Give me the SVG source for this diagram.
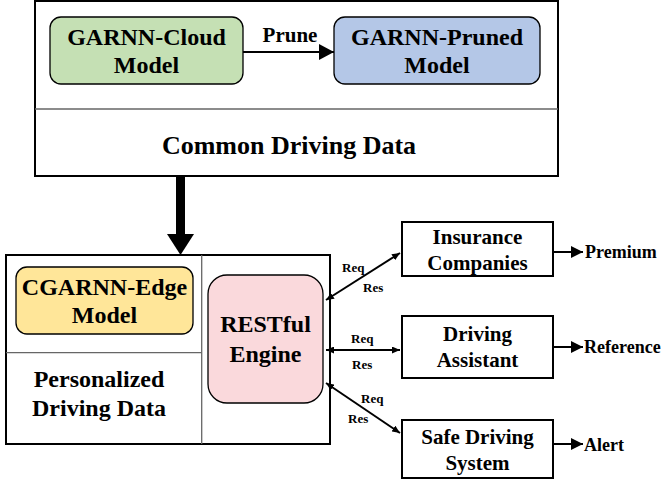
<svg xmlns="http://www.w3.org/2000/svg" width="665" height="485" viewBox="0 0 665 485">
<style>
text{font-family:'Liberation Serif','DejaVu Serif',serif;font-weight:bold;fill:#000}
.c{text-anchor:middle}
.frame{fill:#fff;stroke:#000;stroke-width:2}
.div{stroke:#666;stroke-width:1.3;fill:none}
.node{stroke:#000;stroke-width:1.3}
.box{fill:#fff;stroke:#000;stroke-width:2}
.t24{font-size:24px}
.t21{font-size:21px}
.t18{font-size:18px}
.t13{font-size:13px}
.ln{stroke:#000;stroke-width:2;fill:none}
</style>
<defs>
<marker id="big" markerUnits="userSpaceOnUse" markerWidth="15" markerHeight="16" refX="15" refY="8" orient="auto"><path d="M0,0 L15,8 L0,16 z" fill="#000"/></marker>
<marker id="out" markerUnits="userSpaceOnUse" markerWidth="12" markerHeight="12" refX="12" refY="6" orient="auto"><path d="M0,0 L12,6 L0,12 z" fill="#000"/></marker>
<marker id="sm" markerUnits="userSpaceOnUse" markerWidth="8" markerHeight="7" refX="8" refY="3.5" orient="auto-start-reverse"><path d="M0,0 L8,3.5 L0,7 z" fill="#000"/></marker>
</defs>
<g font-family="Liberation Serif, DejaVu Serif, serif" font-weight="bold">
<g id="cloud-frame">
<rect class="frame" x="35" y="1" width="523" height="175"/>
<line class="div" x1="35" y1="109" x2="558" y2="109"/>
<text class="c" x="289" y="154" style="font-size:26px">Common Driving Data</text>
</g>
<g id="garnn-cloud">
<rect class="node" x="50" y="17" width="193" height="67" rx="11" fill="#c5e0b4"/>
<text class="c t24" x="146.5" y="45">GARNN-Cloud</text>
<text class="c t24" x="146.5" y="73">Model</text>
</g>
<g id="garnn-pruned">
<rect class="node" x="334" y="17" width="206" height="67" rx="11" fill="#b4c7e7"/>
<text class="c t24" x="437" y="45">GARNN-Pruned</text>
<text class="c t24" x="437" y="73">Model</text>
</g>

<g id="edge-frame">
<rect class="frame" x="6" y="255" width="324" height="189"/>
<line class="div" x1="201.7" y1="255" x2="201.7" y2="444"/>
<line class="div" x1="6" y1="352.7" x2="201.7" y2="352.7"/>
<text class="c t24" x="99" y="387">Personalized</text>
<text class="c t24" x="99" y="416">Driving Data</text>
</g>
<g id="cgarnn-edge">
<rect class="node" x="16" y="267" width="177" height="67" rx="11" fill="#ffe699"/>
<text class="c t24" x="104.5" y="295">CGARNN-Edge</text>
<text class="c t24" x="104.5" y="323">Model</text>
</g>
<g id="restful">
<rect class="node" x="208" y="275" width="115" height="128" rx="19" fill="#fad9dc"/>
<text class="c t24" x="265.5" y="332">RESTful</text>
<text class="c t24" x="265.5" y="362">Engine</text>
</g>

<g id="insurance">
<rect class="box" x="402" y="222" width="151" height="54"/>
<text class="c t21" x="477.5" y="244">Insurance</text>
<text class="c t21" x="477.5" y="270">Companies</text>
</g>
<g id="driving-assistant">
<rect class="box" x="402" y="316" width="151" height="62"/>
<text class="c t21" x="477.5" y="341">Driving</text>
<text class="c t21" x="477.5" y="367">Assistant</text>
</g>
<g id="safe-driving">
<rect class="box" x="402" y="420" width="151" height="58"/>
<text class="c t21" x="477.5" y="444">Safe Driving</text>
<text class="c t21" x="477.5" y="470">System</text>
</g>

<g id="outputs">
<text class="t18" x="585" y="258">Premium</text>
<text class="t18" x="584" y="353">Reference</text>
<text class="t18" x="584" y="451">Alert</text>
</g>

<g id="connectors">
<line class="ln" x1="243" y1="52" x2="334" y2="52" marker-end="url(#big)"/>
<text class="c" x="290" y="42" style="font-size:21px">Prune</text>
<rect x="176" y="176" width="9" height="58" fill="#000"/>
<polygon points="167,234 194,234 180.5,255" fill="#000"/>
<line class="ln" x1="326" y1="300" x2="400" y2="253" marker-start="url(#sm)" marker-end="url(#sm)"/>
<line class="ln" x1="326" y1="350" x2="400" y2="350" marker-start="url(#sm)" marker-end="url(#sm)"/>
<line class="ln" x1="326" y1="383" x2="400" y2="433" marker-start="url(#sm)" marker-end="url(#sm)"/>
<text class="t13" x="342" y="272">Req</text>
<text class="t13" x="363" y="292">Res</text>
<text class="t13" x="351" y="343">Req</text>
<text class="t13" x="352" y="369">Res</text>
<text class="t13" x="361" y="403">Req</text>
<text class="t13" x="348" y="423">Res</text>
<line class="ln" x1="553" y1="252" x2="583" y2="252" marker-end="url(#out)"/>
<line class="ln" x1="553" y1="347" x2="583" y2="347" marker-end="url(#out)"/>
<line class="ln" x1="553" y1="444" x2="583" y2="444" marker-end="url(#out)"/>
</g>
</g>
</svg>
